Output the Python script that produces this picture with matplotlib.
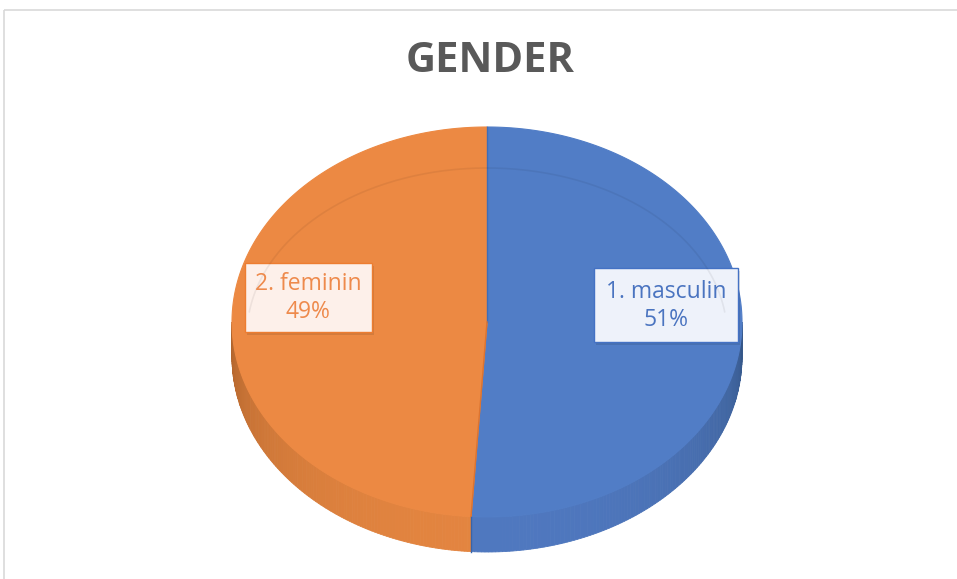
import numpy as np
import matplotlib.pyplot as plt
from matplotlib.patches import Polygon, Rectangle

# data
labels = ['1. masculin', '2. feminin']
values = [51, 49]
title = 'GENDER'

top_colors = ['#517dc6', '#ec8943']
wall_dark = [np.array([0.20, 0.33, 0.52]), np.array([0.66, 0.37, 0.16])]
wall_light = [np.array([0.31, 0.47, 0.75]), np.array([0.89, 0.52, 0.25])]
text_colors = ['#4a74c0', '#ee8a4c']
box_faces = ['#eef2fa', '#fdf0ea']
box_edges = ['#4472c4', '#ed7d31']

# pie geometry (pixel space)
cx, cy = 487, 322
ra, rb = 255, 195
depth = 35


def ept(theta_deg):
    t = np.radians(theta_deg)
    return cx + ra * np.cos(t), cy - rb * np.sin(t)


fig = plt.figure(figsize=(9.57, 5.79), dpi=100)
ax = fig.add_axes([0, 0, 1, 1])
ax.set_xlim(0, 957)
ax.set_ylim(579, 0)
ax.axis('off')

# chart area border
ax.add_patch(Rectangle((4, 10), 960, 600, fill=False, ec='#d9d9d9', lw=1.2))

# slice angles, clockwise from 12 o'clock
fracs = np.array(values) / sum(values)
starts = 90 - 360 * np.concatenate([[0], np.cumsum(fracs)[:-1]])
ends = starts - 360 * fracs

# side walls (front half only)
for i in range(len(values)):
    lo, hi = ends[i], starts[i]
    for shift in (0, -360, 360):
        a0 = max(lo + shift, -180)
        a1 = min(hi + shift, 0)
        if a1 <= a0:
            continue
        ths = np.linspace(a0, a1, 120)
        for t0, t1 in zip(ths[:-1], ths[1:]):
            x0, y0 = ept(t0)
            x1, y1 = ept(t1)
            tm = np.radians((t0 + t1) / 2)
            k = abs(np.sin(tm)) ** 0.6
            col = wall_dark[i] + (wall_light[i] - wall_dark[i]) * k
            ax.add_patch(Polygon([(x0, y0), (x1, y1), (x1, y1 + depth), (x0, y0 + depth)],
                                 closed=True, fc=col, ec=col, lw=0.6))

# top faces
for i in range(len(values)):
    ths = np.linspace(starts[i], ends[i], 300)
    pts = [ept(t) for t in ths]
    poly = [(cx, cy)] + pts
    ax.add_patch(Polygon(poly, closed=True, fc=top_colors[i], ec=top_colors[i], lw=0.8))

# split lines
for i in range(len(values)):
    x, y = ept(starts[i])
    ax.plot([cx, x], [cy, y], color='#3f6db8' if i == 0 else '#dd7430', lw=1.0)
x, y = ept(ends[0])
ax.plot([x, x], [y, y + depth], color='#3a64a8', lw=1.0)

# faint bevel arc
ths = np.radians(np.linspace(8, 172, 200))
ax.plot(cx + 240 * np.cos(ths), 335 - 167 * np.sin(ths), color='#000000', alpha=0.06, lw=1.2)

# title
ax.text(490, 62, title, ha='center', va='center', fontsize=30, fontweight='bold',
        color='#595959', family='Open Sans')

# data labels
label_pos = [(666, 305), (308, 297)]
box_size = [(144, 74), (127, 69)]
for i in range(len(values)):
    bx, by = label_pos[i]
    w, h = box_size[i]
    ax.add_patch(Rectangle((bx - w / 2 + 2, by - h / 2 + 3), w, h, fc='#000000', alpha=0.10, ec='none'))
    ax.add_patch(Rectangle((bx - w / 2, by - h / 2), w, h, fc=box_faces[i], ec=box_edges[i], lw=1.0))
    ax.text(bx, by + 1, f'{labels[i]}\n{values[i]}%', ha='center', va='center', fontsize=16.5,
            color=text_colors[i], family='Open Sans', linespacing=1.2)

fig.savefig('out.png', dpi=100)
